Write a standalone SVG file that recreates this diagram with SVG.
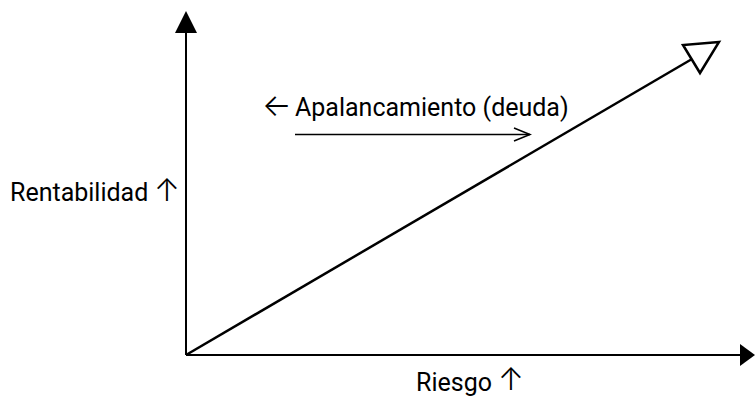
<svg xmlns="http://www.w3.org/2000/svg" width="755" height="396" viewBox="0 0 755 396">
<style>
.ax{stroke:#000;stroke-width:2;fill:none}
.t{font-family:Roboto,"Liberation Sans",sans-serif;font-size:25px;fill:#000}
.ar{font-family:Inter,"DejaVu Sans",sans-serif;font-size:31px;font-weight:300;fill:#000}
</style>
<rect width="755" height="396" fill="#fff"/>
<g id="connectors">
<line class="ax" x1="186" y1="355" x2="186" y2="30"/>
<polygon points="186,11 175,33 197,33" fill="#000"/>
<line class="ax" x1="186" y1="355" x2="740" y2="355"/>
<polygon points="755,355 740,344 740,366" fill="#000"/>
<line x1="186" y1="355" x2="692" y2="59" stroke="#000" stroke-width="2.5"/>
<polygon points="719,42 683,45 700,73" fill="#fff" stroke="#000" stroke-width="2.5" stroke-linejoin="miter"/>
<line x1="295" y1="134.5" x2="530" y2="134.5" stroke="#000" stroke-width="1.5"/>
<polyline points="514,128 530,134.5 514,141" fill="none" stroke="#000" stroke-width="1.5"/>
</g>
<g id="label-apalancamiento"><text class="t" y="116"><tspan class="ar" x="262">←</tspan><tspan x="295">Apalancamiento (deuda)</tspan></text></g>
<g id="label-rentabilidad"><text class="t" y="201"><tspan x="10">Rentabilidad</tspan><tspan class="ar" x="154">↑</tspan></text></g>
<g id="label-riesgo"><text class="t" y="391"><tspan x="416">Riesgo</tspan><tspan class="ar" x="498" dy="-1">↑</tspan></text></g>
</svg>
